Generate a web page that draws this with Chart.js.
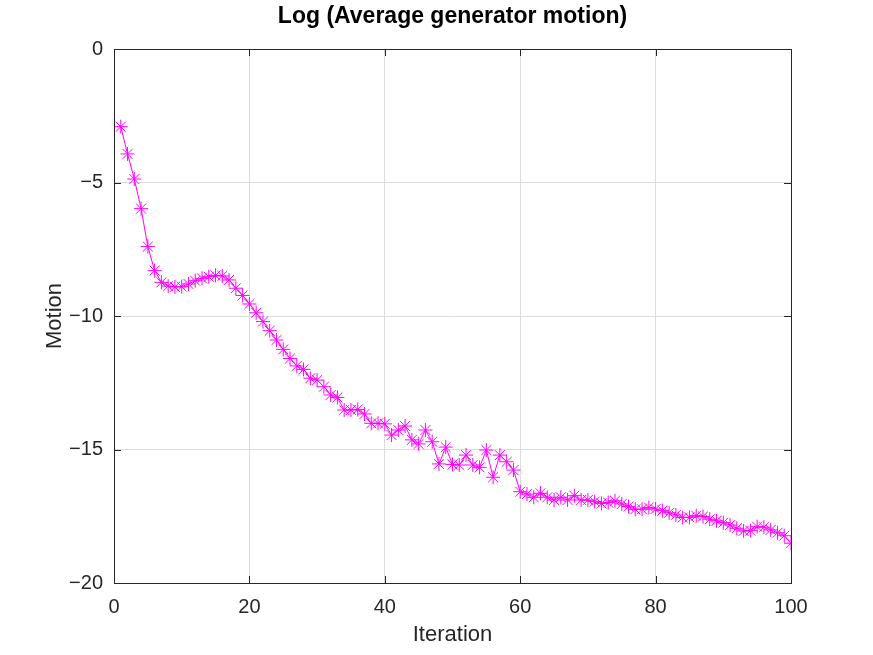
<!DOCTYPE html>
<html>
<head>
<meta charset="utf-8">
<script src="https://cdn.jsdelivr.net/npm/chart.js@4"></script>
<style>
html,body{margin:0;padding:0;background:#fff;}
canvas{display:block;}
</style>
</head>
<body>
<canvas id="c" width="873" height="655"></canvas>
<script>
const titleText = "Log (Average generator motion)";
const xLabel = "Iteration";
const yLabel = "Motion";
const xTicks = [0, 20, 40, 60, 80, 100];
const yTicks = [-20, -15, -10, -5, 0];
const motion = [
  -2.91, -3.93, -4.87, -5.98, -7.40, -8.30, -8.74, -8.88, -8.91, -8.90,
  -8.80, -8.68, -8.59, -8.53, -8.48, -8.50, -8.65, -8.96, -9.23, -9.55,
  -9.88, -10.21, -10.55, -10.90, -11.25, -11.59, -11.87, -12.00, -12.33, -12.40,
  -12.65, -12.96, -13.05, -13.52, -13.52, -13.50, -13.67, -14.02, -14.02, -14.04,
  -14.46, -14.27, -14.12, -14.64, -14.79, -14.27, -14.71, -15.54, -14.91, -15.56,
  -15.58, -15.21, -15.58, -15.67, -15.02, -16.04, -15.21, -15.46, -15.77, -16.58,
  -16.67, -16.79, -16.64, -16.79, -16.89, -16.79, -16.89, -16.73, -16.89, -16.89,
  -16.95, -17.02, -16.99, -16.92, -17.04, -17.14, -17.24, -17.24, -17.17, -17.23,
  -17.29, -17.37, -17.45, -17.55, -17.54, -17.48, -17.51, -17.61, -17.67, -17.74,
  -17.83, -17.95, -18.05, -18.04, -17.89, -17.91, -18.01, -18.12, -18.23, -18.51
];

const points = motion.map((v, i) => ({x: i + 1, y: v}));
const FONT = "'Liberation Sans', Arial, Helvetica, sans-serif";
const fmt = v => String(v).replace('-', '\u2212');

const boxPlugin = {
  id: 'box',
  beforeDraw(chart) {
    const ctx = chart.ctx;
    ctx.save();
    ctx.fillStyle = '#fff';
    ctx.fillRect(0, 0, chart.width, chart.height);
    ctx.restore();
  },
  afterDatasetsDraw(chart) {
    const {ctx, chartArea: a, scales} = chart;
    ctx.save();
    ctx.strokeStyle = '#262626';
    ctx.lineWidth = 1;
    const L = 7;
    ctx.beginPath();
    xTicks.forEach(t => {
      const px = Math.round(scales.x.getPixelForValue(t)) + 0.5;
      ctx.moveTo(px, a.bottom); ctx.lineTo(px, a.bottom - L);
      ctx.moveTo(px, a.top); ctx.lineTo(px, a.top + L);
    });
    yTicks.forEach(t => {
      const py = Math.round(scales.y.getPixelForValue(t)) + 0.5;
      ctx.moveTo(a.left, py); ctx.lineTo(a.left + L, py);
      ctx.moveTo(a.right, py); ctx.lineTo(a.right - L, py);
    });
    ctx.stroke();
    ctx.strokeRect(Math.round(a.left) + 0.5, Math.round(a.top) + 0.5,
                   Math.round(a.right - a.left), Math.round(a.bottom - a.top));
    ctx.restore();
  }
};

new Chart(document.getElementById('c'), {
  type: 'line',
  data: {
    datasets: [{
      data: points,
      borderColor: '#ff00ff',
      backgroundColor: '#ff00ff',
      borderWidth: 1,
      pointStyle: 'star',
      pointRadius: 7,
      pointBorderWidth: 1,
      pointBorderColor: '#ff00ff',
      fill: false,
      tension: 0
    }]
  },
  options: {
    responsive: false,
    devicePixelRatio: 1,
    animation: false,
    layout: {padding: {left: 32, right: 0, top: 0, bottom: 0}},
    plugins: {
      legend: {display: false},
      tooltip: {enabled: false},
      title: {
        display: true,
        text: titleText,
        color: '#000',
        font: {family: FONT, size: 23, weight: 'bold'},
        padding: {top: 3, bottom: 18.4}
      }
    },
    scales: {
      x: {
        type: 'linear',
        min: 0, max: 100,
        afterBuildTicks(s) { s.ticks = xTicks.map(v => ({value: v})); },
        afterFit(s) { s.height = 72; },
        grid: {color: '#dcdcdc', drawTicks: false},
        border: {display: false},
        ticks: {color: '#262626', font: {family: FONT, size: 20}, padding: 12, maxRotation: 0,
                callback: v => fmt(v)},
        title: {display: true, text: xLabel, color: '#262626',
                font: {family: FONT, size: 22}, padding: {top: 0, bottom: 6.8}}
      },
      y: {
        type: 'linear',
        position: 'left',
        min: -20, max: 0,
        afterBuildTicks(s) { s.ticks = yTicks.map(v => ({value: v})); },
        afterFit(s) { s.width = 82; },
        grid: {color: '#dcdcdc', drawTicks: false},
        border: {display: false},
        ticks: {color: '#262626', font: {family: FONT, size: 20}, padding: 11,
                callback: v => fmt(v)},
        title: {display: true, text: yLabel, color: '#262626',
                font: {family: FONT, size: 22}, padding: {top: 9.8, bottom: 0}}
      },
      y2: {
        type: 'linear',
        position: 'right',
        min: -20, max: 0,
        afterFit(s) { s.width = 82; },
        grid: {display: false, drawTicks: false},
        border: {display: false},
        ticks: {display: false}
      }
    }
  },
  plugins: [boxPlugin]
});
</script>
</body>
</html>
